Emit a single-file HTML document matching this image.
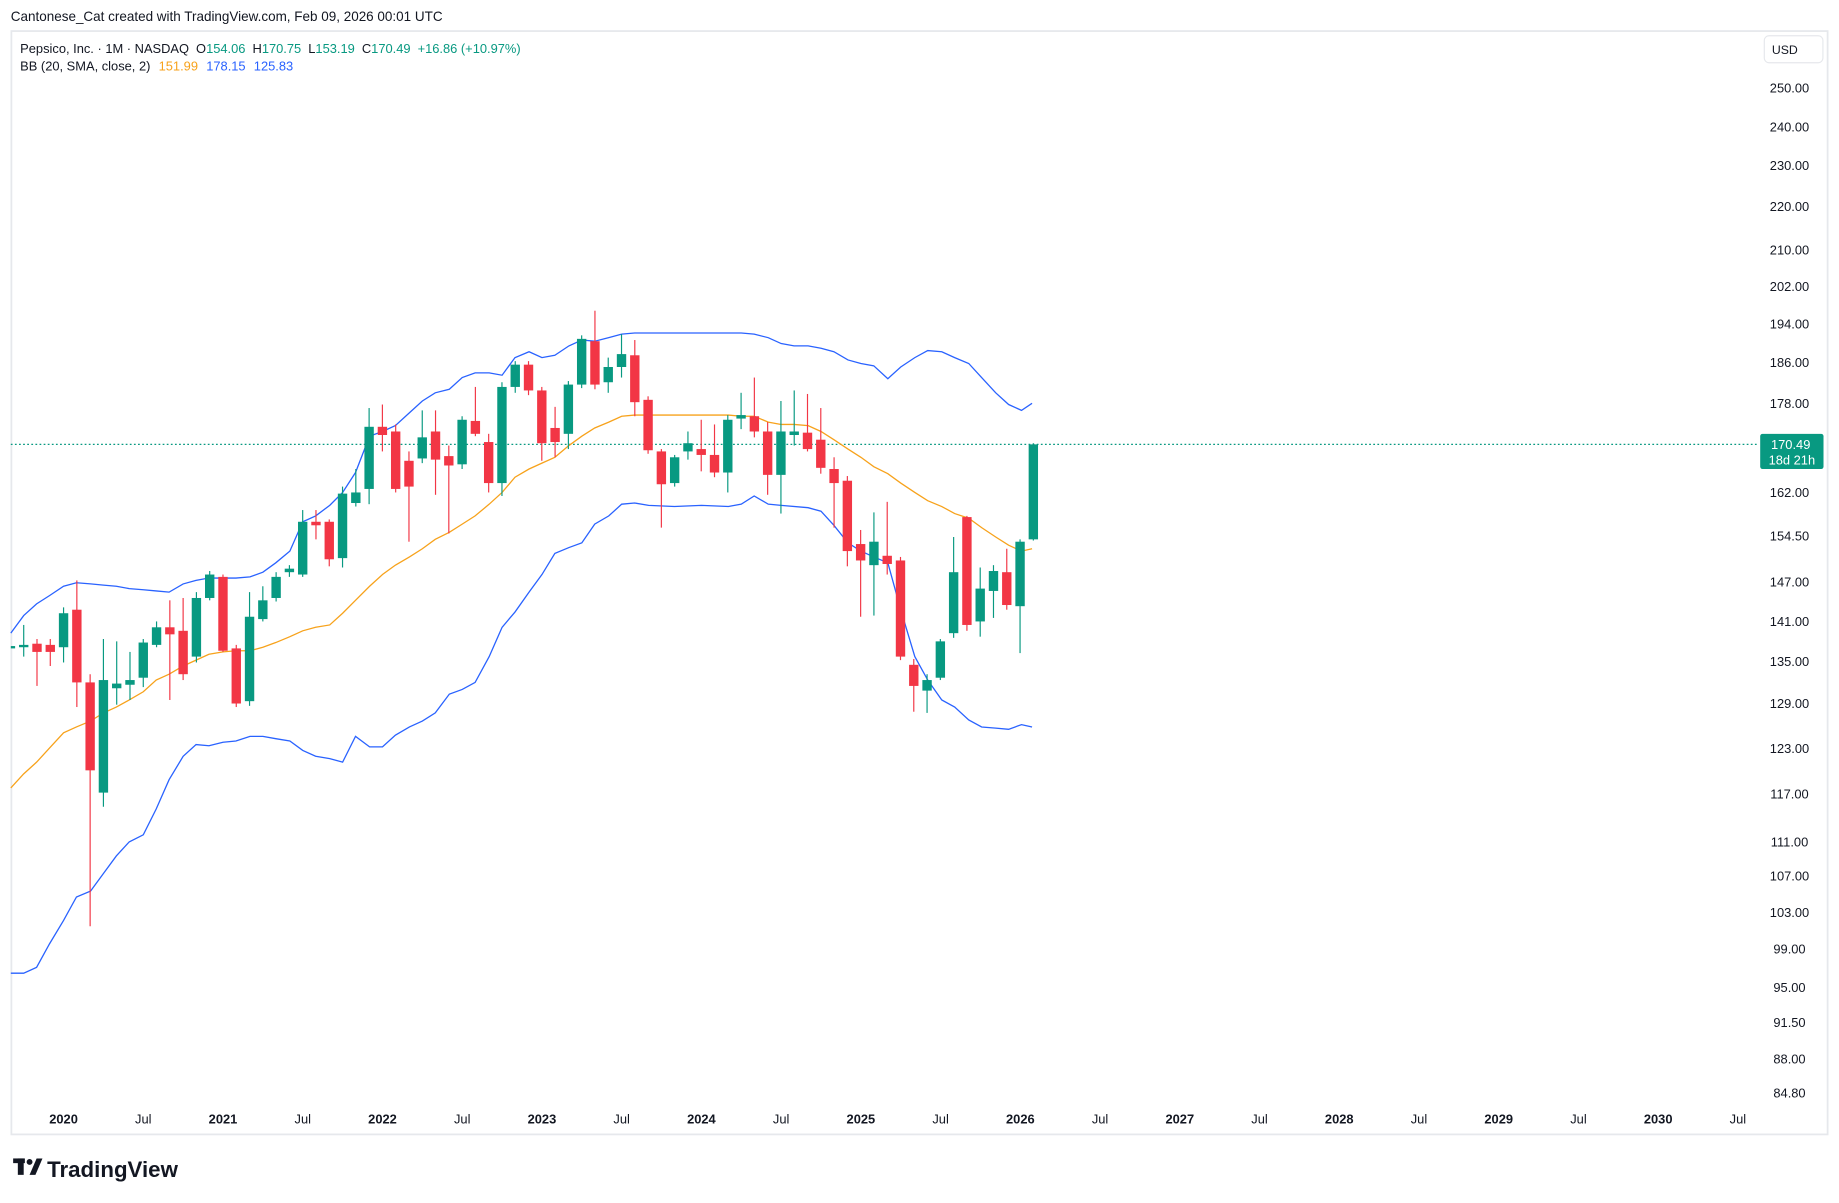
<!DOCTYPE html>
<html><head><meta charset="utf-8">
<style>
html,body{margin:0;padding:0;background:#fff;}
svg{display:block;font-family:"Liberation Sans",sans-serif;}
</style></head>
<body>
<svg id="s" width="1839" height="1203" viewBox="0 0 1568 1026" xmlns="http://www.w3.org/2000/svg">
<rect x="0" y="0" width="1568" height="1026" fill="#fff"/>
<text x="9" y="18" font-size="11.5" fill="#131722">Cantonese_Cat created with TradingView.com, Feb 09, 2026 00:01 UTC</text>
<rect x="9.5" y="26.5" width="1549" height="941" fill="none" stroke="#e6e8ec" stroke-width="1.5"/>
<text x="17" y="45" font-size="11" fill="#131722">Pepsico, Inc. · 1M · NASDAQ<tspan dx="6">O</tspan><tspan fill="#089981">154.06</tspan><tspan dx="6">H</tspan><tspan fill="#089981">170.75</tspan><tspan dx="6">L</tspan><tspan fill="#089981">153.19</tspan><tspan dx="6">C</tspan><tspan fill="#089981">170.49</tspan><tspan dx="6" fill="#089981">+16.86 (+10.97%)</tspan></text>
<text x="17" y="60" font-size="11" fill="#131722">BB (20, SMA, close, 2)<tspan dx="7" fill="#f7a21b">151.99</tspan><tspan dx="7" fill="#2962ff">178.15</tspan><tspan dx="7" fill="#2962ff">125.83</tspan></text>
<rect x="1504.5" y="30.5" width="50" height="23" rx="4" fill="#fff" stroke="#e6e8ec"/>
<text x="1522" y="46" font-size="10.5" fill="#131722" text-anchor="middle">USD</text>
<line x1="9" y1="379" x2="1500" y2="379" stroke="#089981" stroke-width="1" stroke-dasharray="1.5,2"/>
<g id="g"></g>
<rect x="1501" y="370" width="54" height="30" rx="2" fill="#089981"/>
<text x="1527" y="383" font-size="11" fill="#fff" text-anchor="middle">170.49</text>
<text x="1528" y="396" font-size="11" fill="#fff" text-anchor="middle">18d 21h</text>
<g transform="translate(11,988)" fill="#131722"><rect x="0" y="0" width="10" height="4"/><rect x="4" y="0" width="5" height="14"/><circle cx="14" cy="3" r="2.5"/><polygon points="20,0 25,0 19,14 14,14"/></g>
<text x="40" y="1004" font-size="19" font-weight="bold" fill="#131722">TradingView</text>
</svg>
<script>
var g=document.getElementById('g');var h='';
var d=[[-4,553,545,558,551],[-3,552,533,560,550],[-2,549,545,585,556],[-1,550,545,568,556],[0,552,518,565,523],[1,520,495,603,582],[2,582,575,790,657],[3,676,545,688,580],[4,587,547,601,583],[5,584,556,597,580],[6,578,545,586,548],[7,550,530,552,535],[8,535,512,597,541],[9,538,510,580,575],[10,560,505,565,510],[11,510,487,512,490],[12,492,490,556,555],[13,553,550,603,600],[14,598,505,602,526],[15,528,500,530,512],[16,510,488,513,492],[17,488,482,492,485],[18,490,435,492,445],[19,445,435,460,448],[20,445,443,483,477],[21,476,415,484,421],[22,429,400,432,420],[23,417,348,430,364],[24,364,345,385,371],[25,368,362,420,417],[26,393,385,462,415],[27,391,350,395,373],[28,368,350,422,392],[29,389,380,455,397],[30,396,355,400,358],[31,359,330,372,370],[32,377,370,420,412],[33,412,326,423,330],[34,330,308,335,311],[35,311,308,337,333],[36,333,330,393,378],[37,365,347,390,377],[38,370,325,383,328],[39,328,286,331,289],[40,291,265,332,328],[41,326,305,335,313],[42,313,285,322,302],[43,303,290,355,343],[44,341,338,387,384],[45,385,383,450,413],[46,412,388,415,390],[47,385,368,392,378],[48,383,358,402,388],[49,388,362,407,403],[50,403,354,420,358],[51,357,335,366,354],[52,355,322,373,368],[53,368,360,422,405],[54,405,342,438,368],[55,371,333,380,368],[56,369,336,385,383],[57,375,348,404,399],[58,400,390,450,412],[59,410,406,483,470],[60,464,452,526,478],[61,482,437,525,462],[62,474,428,490,481],[63,478,475,563,560],[64,567,562,607,585],[65,589,575,608,580],[66,578,545,580,547],[67,540,458,544,488],[68,441,440,538,533],[69,530,484,543,502],[70,504,482,527,487],[71,488,468,520,516],[72,517,460,557,462],[73,460,378,461,379]];
function pl(p,c){return '<polyline fill="none" stroke="'+c+'" stroke-width="1.1" points="'+p.map(function(q){return q.join(',')}).join(' ')+'"/>';}
var up=[[9,540],[20,525],[31,515],[42,508],[54,500],[65,497],[77,498],[88,499],[99,500],[110,502],[122,503],[133,504],[144,505],[156,498],[167,495],[178,493],[190,493],[201,493],[213,492],[224,488],[235,480],[247,470],[258,445],[269,440],[281,431],[292,420],[303,403],[315,372],[326,368],[337,363],[349,352],[360,342],[371,335],[383,332],[394,322],[405,318],[417,318],[428,320],[439,305],[451,300],[462,305],[473,303],[485,295],[496,290],[507,291],[519,288],[530,285],[541,284],[553,284],[575,284],[598,284],[621,284],[632,284],[643,285],[655,288],[666,293],[677,295],[689,295],[700,297],[711,300],[723,307],[734,310],[745,312],[757,323],[768,313],[780,305],[791,299],[803,300],[814,305],[826,310],[837,322],[849,335],[860,345],[871,350],[880,344]];
var mid=[[9,672],[20,660],[31,650],[42,638],[54,625],[65,620],[77,615],[88,608],[99,603],[110,597],[122,590],[133,580],[144,575],[156,568],[167,563],[178,558],[190,556],[201,555],[213,555],[224,552],[235,548],[247,543],[258,538],[269,535],[281,533],[292,523],[303,512],[315,500],[326,490],[337,482],[349,475],[360,468],[371,460],[383,454],[394,447],[405,440],[417,430],[428,420],[439,407],[451,400],[462,395],[473,390],[485,380],[496,372],[507,365],[519,360],[530,355],[541,354],[553,354],[621,354],[632,355],[643,355],[655,360],[666,362],[677,362],[689,363],[700,368],[711,375],[723,383],[734,390],[745,398],[757,404],[768,412],[780,420],[791,427],[803,432],[814,438],[826,442],[837,450],[849,458],[860,465],[871,470],[880,468]];
var lo=[[9,830],[20,830],[31,825],[42,805],[54,785],[65,765],[77,760],[88,745],[99,730],[110,718],[122,712],[133,690],[144,665],[156,645],[167,635],[178,636],[190,633],[201,632],[213,628],[224,628],[235,630],[247,632],[258,640],[269,645],[281,647],[292,650],[303,628],[315,637],[326,637],[337,627],[349,620],[360,615],[371,608],[383,592],[394,588],[405,582],[417,560],[428,535],[439,522],[451,505],[462,490],[473,472],[485,467],[496,463],[507,447],[519,440],[530,430],[541,429],[553,431],[575,432],[598,431],[621,432],[632,430],[643,423],[655,430],[666,431],[689,433],[700,436],[711,448],[723,463],[734,470],[745,475],[757,480],[768,520],[780,560],[791,580],[803,597],[814,603],[826,614],[837,620],[849,621],[860,622],[871,618],[880,620]];
h+=pl(up,'#2962ff')+pl(mid,'#f7a21b')+pl(lo,'#2962ff');
d.forEach(function(c){var x=54+11.33*c[0];var col=c[4]<c[1]?'#089981':'#f23645';var t=Math.min(c[1],c[4]),b=Math.max(c[1],c[4]);if(b-t<1.5){b=t+1.5;}
if(x<13){h+='<rect x="9" y="'+t+'" width="'+(x+4-9)+'" height="'+(b-t)+'" fill="'+col+'"/>';return;}
h+='<line x1="'+x+'" x2="'+x+'" y1="'+c[2]+'" y2="'+c[3]+'" stroke="'+col+'" stroke-width="1"/>';
h+='<rect x="'+(x-4)+'" y="'+t+'" width="8" height="'+(b-t)+'" fill="'+col+'"/>';});
var pr=[['250.00',75],['240.00',108],['230.00',141],['220.00',176],['210.00',213],['202.00',244],['194.00',276],['186.00',309],['178.00',344],['162.00',420],['154.50',457],['147.00',496],['141.00',530],['135.00',564],['129.00',600],['123.00',638],['117.00',677],['111.00',718],['107.00',747],['103.00',778],['99.00',809],['95.00',842],['91.50',872],['88.00',903],['84.80',932]];
pr.forEach(function(p){h+='<text x="1526" y="'+(p[1]+4)+'" font-size="11" fill="#131722" text-anchor="middle">'+p[0]+'</text>';});
var yl=['2020','2021','2022','2023','2024','2025','2026','2027','2028','2029','2030'];
yl.forEach(function(y,i){var x=54+136*i;h+='<text x="'+x+'" y="958" font-size="11" font-weight="bold" fill="#131722" text-anchor="middle">'+y+'</text><text x="'+(x+68)+'" y="958" font-size="11" fill="#131722" text-anchor="middle">Jul</text>';});
g.innerHTML=h;
</script>
</body></html>
